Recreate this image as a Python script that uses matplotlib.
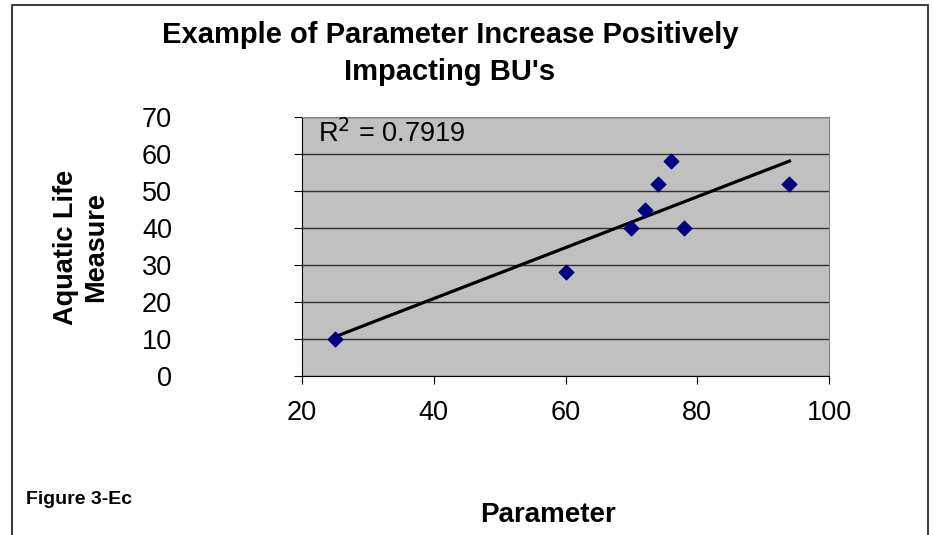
import numpy as np
import matplotlib.pyplot as plt
from matplotlib.lines import Line2D

plt.rcParams['font.family'] = ['Liberation Sans', 'DejaVu Sans']

# data
parameter = [25, 60, 70, 72, 74, 76, 78, 94]
aquatic_life = [10, 28, 40, 45, 52, 58, 40, 52]
x_ticks = [20, 40, 60, 80, 100]
y_ticks = [0, 10, 20, 30, 40, 50, 60, 70]
r2_text = 'R$^2$ = 0.7919'

fig = plt.figure(figsize=(9.33, 5.35), dpi=100)
ax = fig.add_axes([302 / 933, 1 - 376 / 535, 527 / 933, 259 / 535])
ax.set_facecolor('#C0C0C0')

# linear trendline
k, b = np.polyfit(parameter, aquatic_life, 1)
xs = np.array([min(parameter), max(parameter)])
ax.plot(xs, k * xs + b, color='black', lw=2.3, zorder=3)
ax.scatter(parameter, aquatic_life, marker='D', s=55, color='#000080', zorder=4)

ax.set_xlim(20, 100)
ax.set_ylim(0, 70)
ax.set_xticks(x_ticks)
ax.set_yticks(y_ticks)
ax.yaxis.grid(True, color='#303030', lw=1)
ax.set_axisbelow(True)
ax.tick_params(axis='y', direction='out', length=5.5, pad=88, labelsize=19.5)
ax.tick_params(axis='x', direction='out', length=5.5, pad=11.5, labelsize=19.5)
for s in ['top', 'right']:
    ax.spines[s].set_color('#808080')
for s in ['left', 'bottom']:
    ax.spines[s].set_color('black')

ax.text(0.03, 0.99, r2_text, transform=ax.transAxes, fontsize=19.5,
        va='top', ha='left')

fig.text(450 / 933, 1 - 35 / 535, 'Example of Parameter Increase Positively',
         ha='center', va='center', fontsize=21, fontweight='bold')
fig.text(450 / 933, 1 - 72 / 535, "Impacting BU's",
         ha='center', va='center', fontsize=21, fontweight='bold')
fig.text(81 / 933, 1 - 247 / 535, 'Aquatic Life\nMeasure', rotation=90,
         ha='center', va='center', fontsize=19.5, fontweight='bold',
         linespacing=1.2)
fig.text(548 / 933, 1 - 515 / 535, 'Parameter', ha='center', va='center',
         fontsize=20, fontweight='bold')
fig.text(26 / 933, 1 - 500 / 535, 'Figure 3-Ec', ha='left', va='center',
         fontsize=14, fontweight='bold')

# outer frame
fx0, fx1, fy1 = 12 / 933, 928 / 933, 1 - 5 / 535
fig.add_artist(Line2D([fx0, fx0, fx1, fx1], [0, fy1, fy1, 0],
                      color='#404040', lw=1.5))

fig.savefig('out.png', dpi=100)
